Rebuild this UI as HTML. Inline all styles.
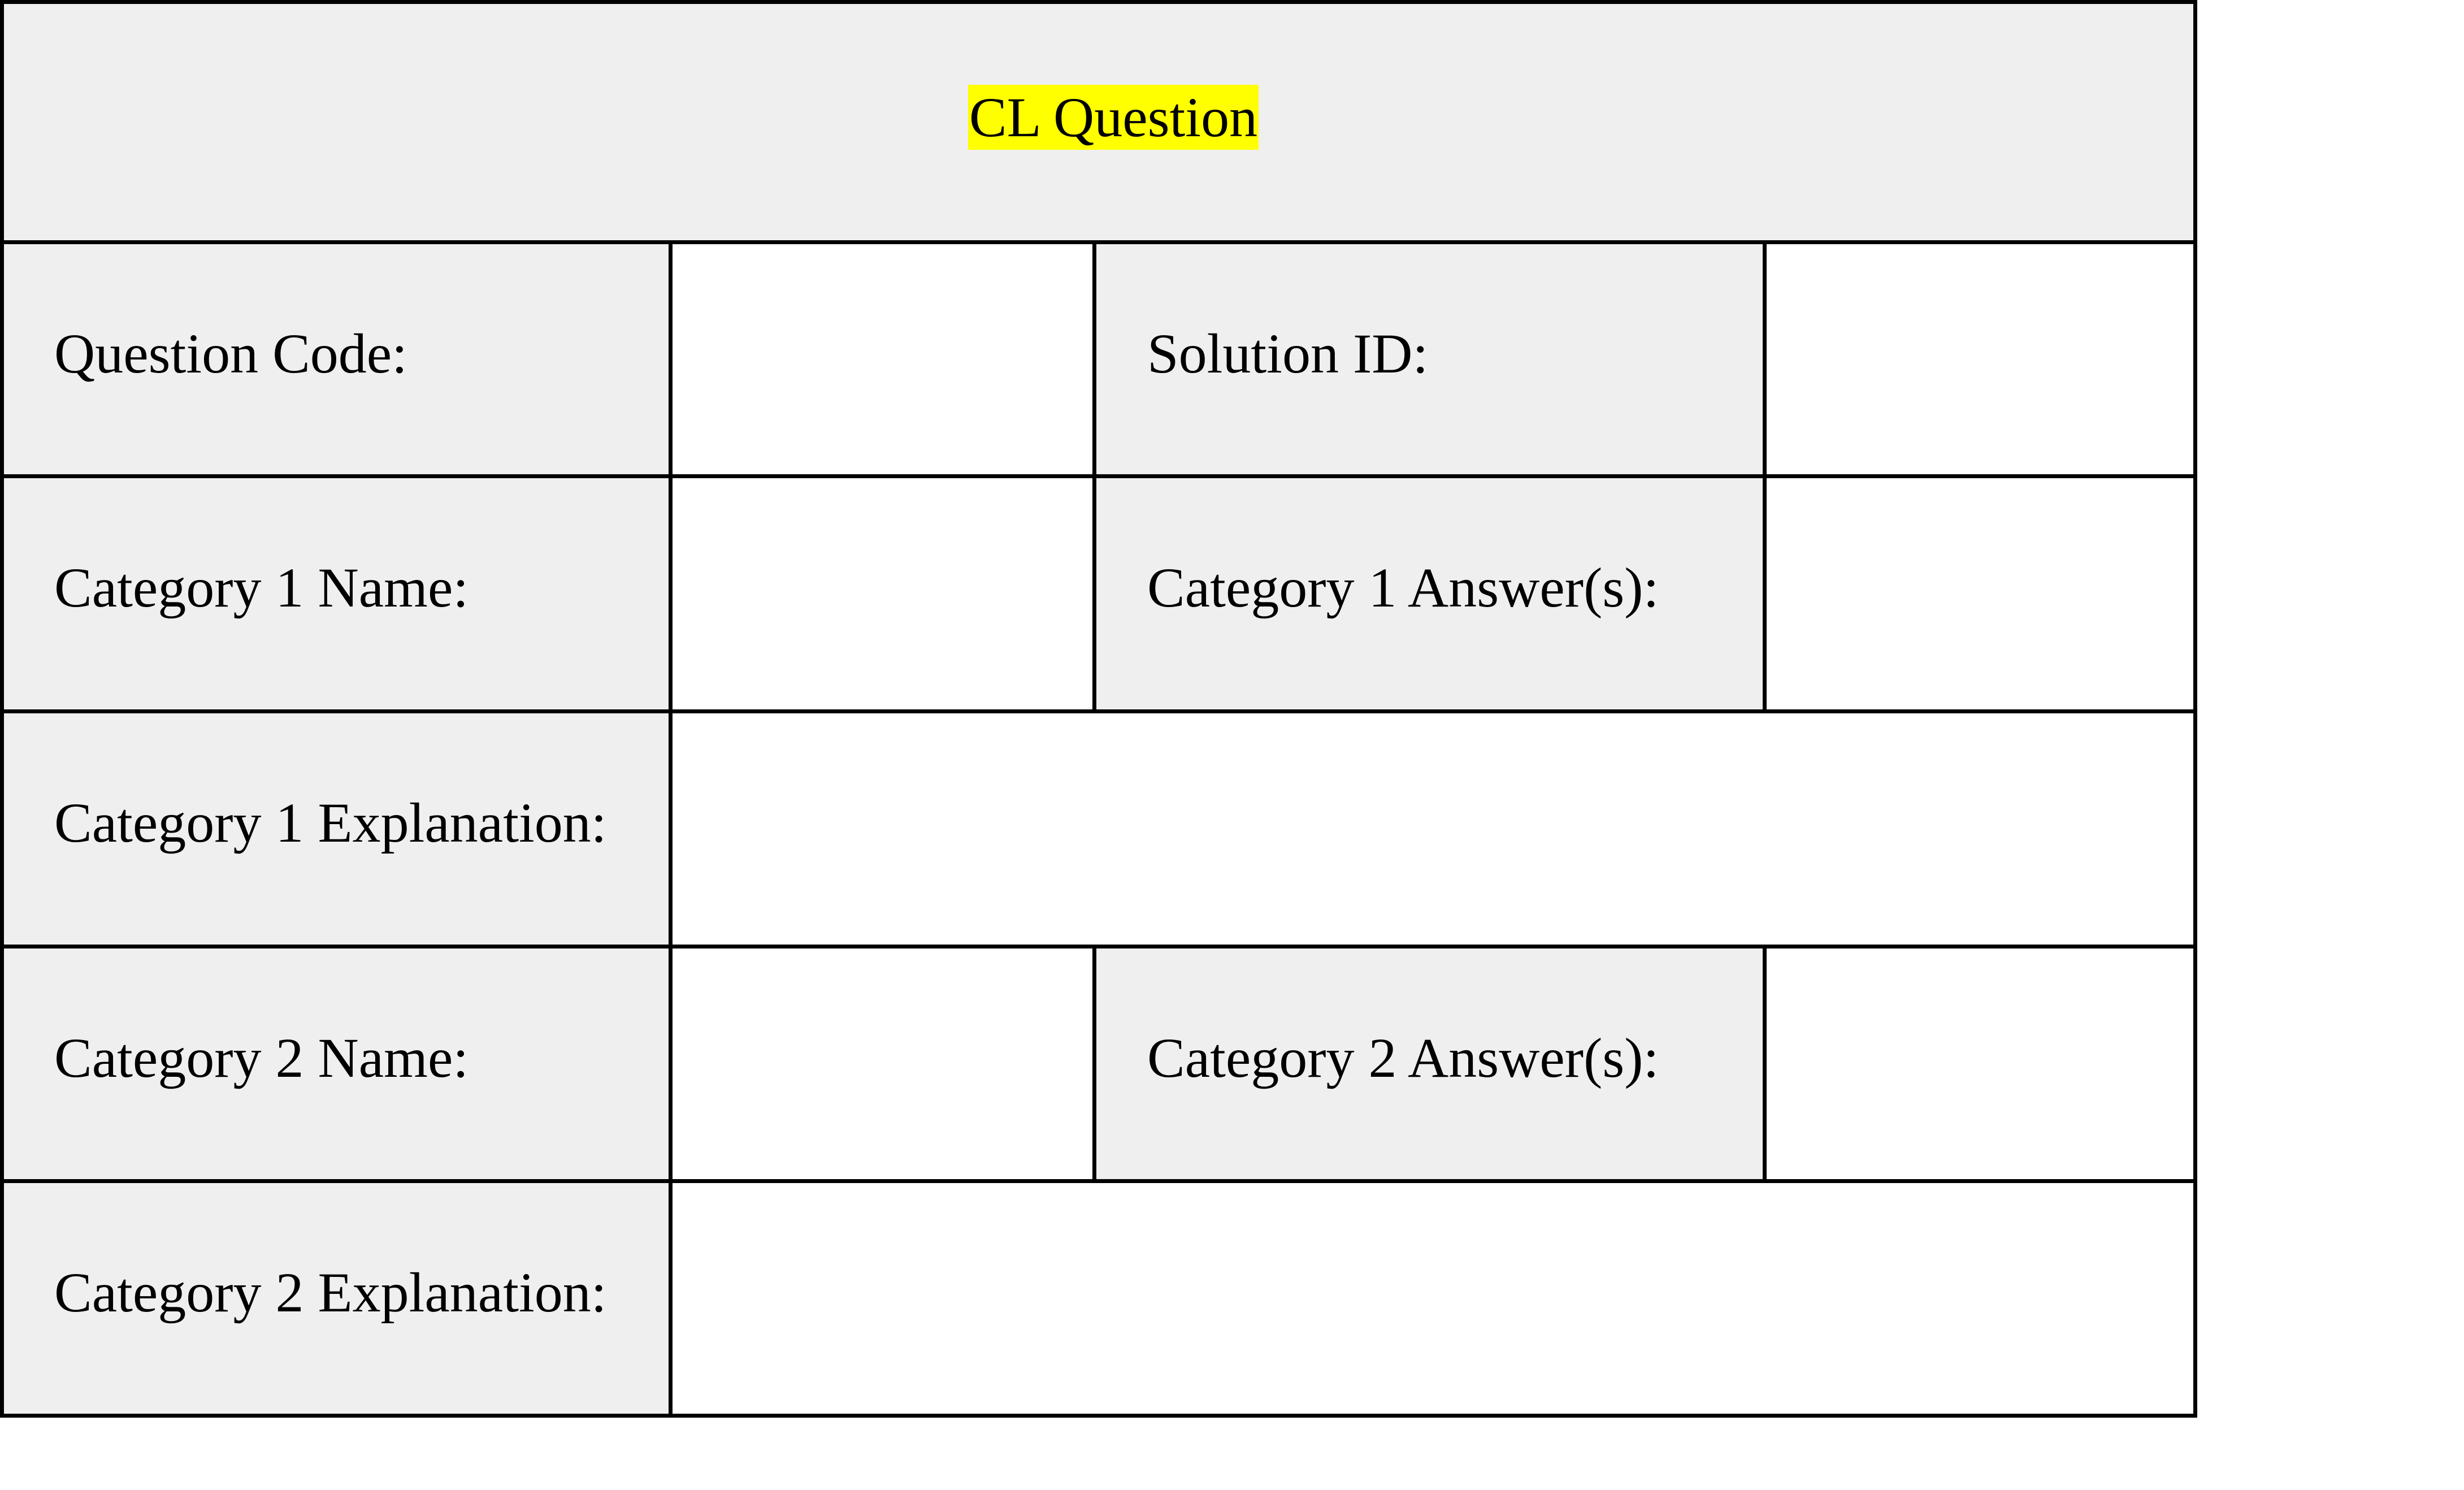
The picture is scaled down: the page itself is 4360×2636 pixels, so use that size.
<!DOCTYPE html>
<html><head><meta charset="utf-8"><style>
html,body{margin:0;padding:0;background:#fff;}
body{width:4360px;height:2636px;position:relative;overflow:hidden;font-family:"Liberation Serif",serif;}
.g{position:absolute;background:#efefef;}
.l{position:absolute;background:#000;}
.t{position:absolute;font-size:100px;line-height:100px;white-space:nowrap;color:#000;}
</style></head><body>
<!-- gray cells -->
<div class="g" style="left:0;top:0;width:3888px;height:432px"></div>
<div class="g" style="left:0;top:432px;width:1190px;height:2076px"></div>
<div class="g" style="left:1933px;top:432px;width:1193px;height:830px"></div>
<div class="g" style="left:1933px;top:1671px;width:1193px;height:422px"></div>
<!-- horizontal lines -->
<div class="l" style="left:0;top:0;width:3888px;height:7px"></div>
<div class="l" style="left:0;top:425px;width:3888px;height:7px"></div>
<div class="l" style="left:0;top:839px;width:3888px;height:7px"></div>
<div class="l" style="left:0;top:1255px;width:3888px;height:7px"></div>
<div class="l" style="left:0;top:1671px;width:3888px;height:7px"></div>
<div class="l" style="left:0;top:2086px;width:3888px;height:7px"></div>
<div class="l" style="left:0;top:2501px;width:3888px;height:7px"></div>
<!-- vertical lines -->
<div class="l" style="left:0;top:0;width:7px;height:2508px"></div>
<div class="l" style="left:3881px;top:0;width:7px;height:2508px"></div>
<div class="l" style="left:1183px;top:425px;width:7px;height:2083px"></div>
<div class="l" style="left:1933px;top:425px;width:7px;height:837px"></div>
<div class="l" style="left:3119px;top:425px;width:7px;height:837px"></div>
<div class="l" style="left:1933px;top:1671px;width:7px;height:422px"></div>
<div class="l" style="left:3119px;top:1671px;width:7px;height:422px"></div>
<!-- title -->
<div style="position:absolute;left:1713px;top:150px;width:514px;height:115px;background:#ffff00;"></div>
<div class="t" style="left:1713px;top:150px;width:514px;line-height:115px;text-align:center;">CL Question</div>
<!-- labels -->
<div class="t" style="left:96px;top:576px">Question Code:</div>
<div class="t" style="left:2030px;top:576px">Solution ID:</div>
<div class="t" style="left:96px;top:990px">Category 1 Name:</div>
<div class="t" style="left:2030px;top:990px">Category 1 Answer(s):</div>
<div class="t" style="left:96px;top:1406px">Category 1 Explanation:</div>
<div class="t" style="left:96px;top:1822px">Category 2 Name:</div>
<div class="t" style="left:2030px;top:1822px">Category 2 Answer(s):</div>
<div class="t" style="left:96px;top:2237px">Category 2 Explanation:</div>
</body></html>
